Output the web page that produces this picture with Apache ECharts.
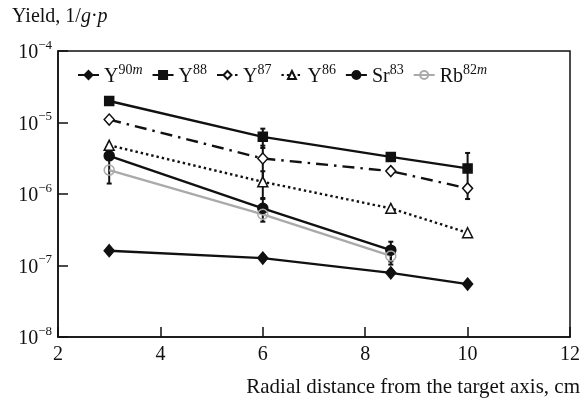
<!DOCTYPE html>
<html>
<head>
<meta charset="utf-8">
<script src="https://cdn.jsdelivr.net/npm/echarts@6/dist/echarts.min.js"></script>
<style>
  html, body { margin: 0; padding: 0; background: #fff; }
  #chart { width: 584px; height: 406px; }
</style>
</head>
<body>
<div id="chart"></div>
<script>
// Radial distance from the target axis, cm
const distances = [3, 6, 8.5, 10];

// Yields, 1/(g·p)
const y90m = [1.61e-7, 1.27e-7, 7.9e-8, 5.5e-8];
const y88  = [2.0e-5, 6.3e-6, 3.3e-6, 2.28e-6];
const y87  = [1.10e-5, 3.14e-6, 2.09e-6, 1.20e-6];
const y86  = [4.8e-6, 1.48e-6, 6.3e-7, 2.87e-7];
const sr83 = [3.42e-6, 6.3e-7, 1.64e-7];
const rb82m = [2.16e-6, 5.2e-7, 1.36e-7];

// Uncertainty ranges: [distance, lower, upper]
const errY88  = [[6, 4.4e-6, 8.2e-6], [10, 0.85e-6, 3.75e-6]];
const errY87  = [[6, 1.54e-6, 4.74e-6]];
const errY86  = [[6, 0.88e-6, 2.08e-6]];
const errSr83 = [[3, 1.4e-6, 3.6e-6], [6, 4.1e-7, 8.5e-7], [8.5, 1.14e-7, 2.15e-7]];
const errRb82m = [[8.5, 1.03e-7, 1.5e-7]];

const xTicks = [2, 4, 6, 8, 10, 12];

const FONT = 'Liberation Serif';

function pairs(vals) {
  return vals.map((v, i) => [distances[i], v]);
}

function errorBars(data, color) {
  return {
    type: 'custom',
    silent: true,
    z: 1,
    data: data,
    renderItem: function (params, api) {
      const x = api.value(0);
      const lo = api.coord([x, api.value(1)]);
      const hi = api.coord([x, api.value(2)]);
      const cap = 2.5;
      const st = { stroke: color, lineWidth: 2 };
      return {
        type: 'group',
        children: [
          { type: 'line', shape: { x1: lo[0], y1: lo[1], x2: hi[0], y2: hi[1] }, style: st },
          { type: 'line', shape: { x1: lo[0] - cap, y1: lo[1], x2: lo[0] + cap, y2: lo[1] }, style: st },
          { type: 'line', shape: { x1: hi[0] - cap, y1: hi[1], x2: hi[0] + cap, y2: hi[1] }, style: st }
        ]
      };
    }
  };
}

const tickRich = {
  b: { fontFamily: FONT, fontSize: 20, color: '#111', lineHeight: 24, verticalAlign: 'bottom' },
  s: { fontFamily: FONT, fontSize: 13, color: '#111', lineHeight: 24, verticalAlign: 'top' }
};

const legendRich = {
  b: { fontFamily: FONT, fontSize: 20, color: '#111', lineHeight: 24, verticalAlign: 'bottom' },
  s: { fontFamily: FONT, fontSize: 14, color: '#111', lineHeight: 24, verticalAlign: 'top' },
  si: { fontFamily: FONT, fontSize: 14, fontStyle: 'italic', color: '#111', lineHeight: 24, verticalAlign: 'top' }
};

const legendText = {
  'Y90m': '{b|Y}{s|90}{si|m}',
  'Y88': '{b|Y}{s|88}',
  'Y87': '{b|Y}{s|87}',
  'Y86': '{b|Y}{s|86}',
  'Sr83': '{b|Sr}{s|83}',
  'Rb82m': '{b|Rb}{s|82}{si|m}'
};

function lineSeries(name, vals, opts) {
  return Object.assign({
    name: name,
    type: 'line',
    data: pairs(vals),
    z: 3,
    symbolSize: 10,
    lineStyle: { color: '#111', width: 2.4 },
    itemStyle: { color: '#111', borderColor: '#111', borderWidth: 1.5 }
  }, opts);
}

const chart = echarts.init(document.getElementById('chart'), null, { renderer: 'canvas' });

chart.setOption({
  animation: false,
  backgroundColor: '#fff',
  title: {
    text: '{n|Yield, 1/}{i|g}{n|·}{i|p}',
    left: 7,
    top: 2,
    textStyle: {
      rich: {
        n: { fontFamily: FONT, fontSize: 20, fontWeight: 'normal', color: '#111' },
        i: { fontFamily: FONT, fontSize: 20, fontWeight: 'normal', fontStyle: 'italic', color: '#111' }
      }
    }
  },
  legend: {
    left: 77,
    top: 63,
    padding: 0,
    itemWidth: 21,
    itemHeight: 10,
    itemGap: 9,
    formatter: n => legendText[n],
    textStyle: { rich: legendRich },
    data: ['Y90m', 'Y88', 'Y87', 'Y86', 'Sr83', 'Rb82m']
  },
  grid: {
    left: 58, right: 14, top: 51, bottom: 69,
    show: true, borderColor: '#111', borderWidth: 1.5
  },
  xAxis: {
    type: 'value',
    min: xTicks[0],
    max: xTicks[xTicks.length - 1],
    interval: 2,
    name: 'Radial distance from the target axis, cm',
    nameLocation: 'end',
    nameGap: 0,
    nameTextStyle: {
      fontFamily: FONT, fontSize: 21, color: '#111',
      align: 'right', verticalAlign: 'top', padding: [40, -10, 0, 0]
    },
    axisLine: { lineStyle: { color: '#111', width: 1.5 } },
    axisTick: { inside: true, length: 10, lineStyle: { color: '#111', width: 1.5 } },
    axisLabel: { fontFamily: FONT, fontSize: 20, color: '#111', margin: 8 },
    splitLine: { show: false }
  },
  yAxis: {
    type: 'log',
    logBase: 10,
    min: 1e-8,
    max: 1e-4,
    axisLine: { lineStyle: { color: '#111', width: 1.5 } },
    axisTick: { inside: true, length: 10, lineStyle: { color: '#111', width: 1.5 } },
    axisLabel: {
      margin: 6,
      formatter: v => '{b|10}{s|−' + Math.abs(Math.round(Math.log10(v))) + '}',
      rich: tickRich
    },
    splitLine: { show: false }
  },
  series: [
    errorBars(errY88, '#111'),
    errorBars(errY87, '#111'),
    errorBars(errY86, '#111'),
    errorBars(errSr83, '#111'),
    errorBars(errRb82m, '#111'),
    lineSeries('Y90m', y90m, { symbol: 'diamond', symbolSize: [10, 12] }),
    lineSeries('Y88', y88, { symbol: 'rect', symbolSize: 9 }),
    lineSeries('Y87', y87, {
      symbol: 'diamond', symbolSize: [10, 11],
      lineStyle: { color: '#111', width: 2.4, type: [12, 6, 2.5, 6] },
      itemStyle: { color: '#fff', borderColor: '#111', borderWidth: 1.5 }
    }),
    lineSeries('Y86', y86, {
      symbol: 'triangle', symbolSize: [10, 10],
      lineStyle: { color: '#111', width: 2.4, type: [2.4, 3] },
      itemStyle: { color: '#fff', borderColor: '#111', borderWidth: 1.5 }
    }),
    lineSeries('Sr83', sr83, { symbol: 'circle', symbolSize: 10 }),
    lineSeries('Rb82m', rb82m, {
      symbol: 'circle', symbolSize: 10,
      lineStyle: { color: '#aaa', width: 2.4 },
      itemStyle: { color: 'rgba(255,255,255,0)', borderColor: '#aaa', borderWidth: 1.5 }
    })
  ]
});
</script>
</body>
</html>
